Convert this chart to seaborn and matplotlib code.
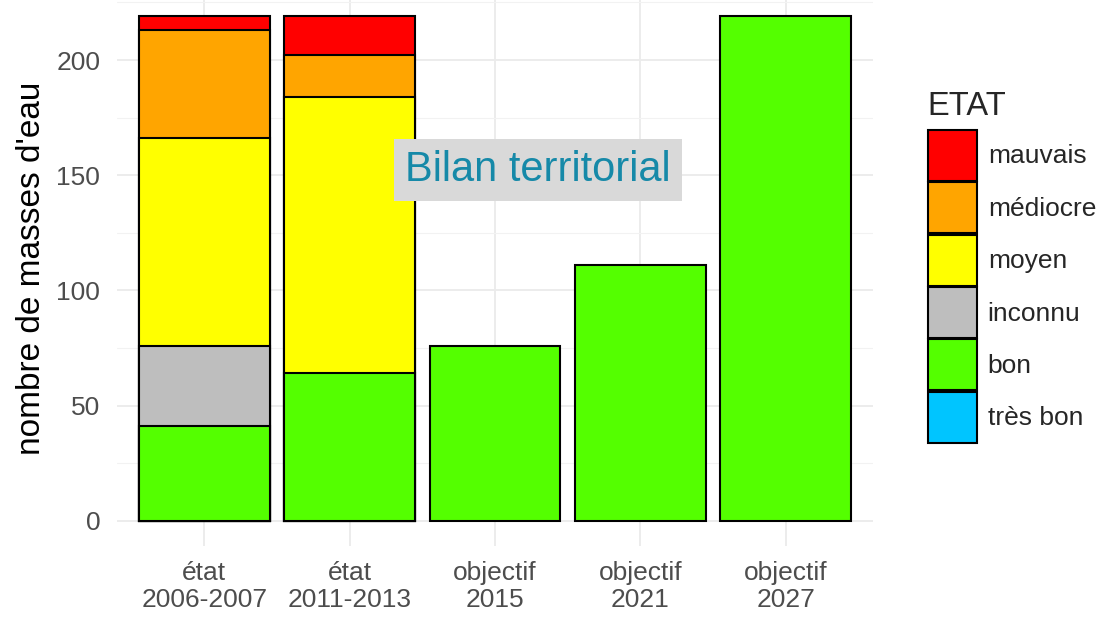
import pandas as pd
import matplotlib
matplotlib.use('Agg')
import matplotlib.pyplot as plt
from matplotlib.patches import Patch
from matplotlib.ticker import MultipleLocator
import seaborn as sns

# data
periodes = ['état\n2006-2007', 'état\n2011-2013', 'objectif\n2015', 'objectif\n2021', 'objectif\n2027']
etats = ['mauvais', 'médiocre', 'moyen', 'inconnu', 'bon', 'très bon']  # top -> bottom
couleurs = ['#FF0000', '#FFA500', '#FFFF00', '#BEBEBE', '#54FF00', '#00C5FF']

mauvais = [6, 17, 0, 0, 0]
mediocre = [47, 18, 0, 0, 0]
moyen = [90, 120, 0, 0, 0]
inconnu = [35, 0, 0, 0, 0]
bon = [41, 64, 76, 111, 219]
tres_bon = [0, 0, 0, 0, 0]

valeurs = [mauvais, mediocre, moyen, inconnu, bon, tres_bon]

rows = []
for etat, vals in zip(etats, valeurs):
    for p, v in zip(periodes, vals):
        rows.append({'periode': p, 'ETAT': etat, 'n': v})
df = pd.DataFrame(rows)

# cumulative heights, stacking très bon at the bottom
df['ETAT'] = pd.Categorical(df['ETAT'], categories=etats[::-1], ordered=True)
df = df.sort_values(['periode', 'ETAT'])
df['cum'] = df.groupby('periode', observed=True)['n'].cumsum()

sns.set_theme(style='white')
plt.rcParams['font.family'] = ['Liberation Sans', 'DejaVu Sans']

fig = plt.figure(figsize=(11.15, 6.29), dpi=100)
ax = fig.add_axes([117 / 1115, 1 - 546 / 629, (873 - 117) / 1115, (546 + 9) / 629])

# draw from top of stack downwards so lower segments cover upper ones
for etat, col in zip(etats, couleurs):
    sub = df[df['ETAT'] == etat]
    sub = sub[sub['n'] > 0]
    if sub.empty:
        continue
    sns.barplot(data=sub, x='periode', y='cum', order=periodes, color=col,
                saturation=1, edgecolor='black', linewidth=1.5, width=0.9, ax=ax)

ax.set_xlim(-0.6, 4.6)
ax.set_ylim(-10.95, 229.95)
ax.yaxis.set_major_locator(MultipleLocator(50))
ax.yaxis.set_minor_locator(MultipleLocator(25))
ax.set_axisbelow(True)
ax.grid(which='major', axis='both', color='#EBEBEB', linewidth=1.3)
ax.grid(which='minor', axis='y', color='#F2F2F2', linewidth=0.8)
for s in ax.spines.values():
    s.set_visible(False)
ax.tick_params(axis='both', which='both', length=0, labelsize=19, labelcolor='#4D4D4D')
ax.tick_params(axis='y', pad=12)
ax.tick_params(axis='x', pad=11)
ax.set_xlabel('')
ax.set_ylabel("nombre de masses d'eau", fontsize=24, color='black')
ax.yaxis.set_label_coords((47 - 117) / 756, 0.5)
for lab in ax.get_xticklabels():
    lab.set_linespacing(1.12)

handles = [Patch(facecolor=c, edgecolor='black', linewidth=1.5) for c in couleurs]
leg = fig.legend(handles, etats, title='ETAT', loc='upper left',
                 bbox_to_anchor=(917 / 1115, 1 - 80 / 629), frameon=False,
                 fontsize=19, title_fontsize=23.5, handlelength=1.86, handleheight=2.6,
                 handletextpad=0.42, labelspacing=0.05, borderaxespad=0)
leg._legend_box.align = 'left'
leg._legend_box.sep = 6  # a bit more room under the title

fig.text(538 / 1115, 1 - 170 / 629, 'Bilan territorial', fontsize=30, color='#1689A8',
         ha='center', va='center',
         bbox=dict(facecolor='#D9D9D9', edgecolor='none', boxstyle='square,pad=0.27'))

fig.savefig('out.png', dpi=100)
